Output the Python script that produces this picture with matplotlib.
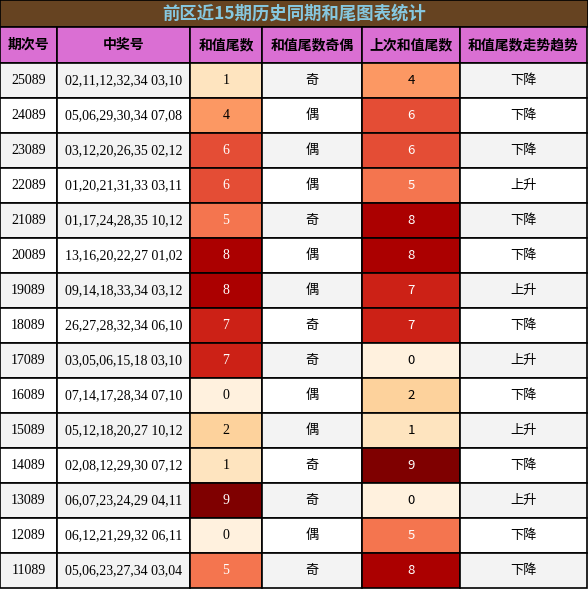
import matplotlib
matplotlib.use("Agg")
import matplotlib.pyplot as plt
from matplotlib.patches import Rectangle
from matplotlib import cm

title = "前区近15期历史同期和尾图表统计"
headers = ["期次号", "中奖号", "和值尾数", "和值尾数奇偶", "上次和值尾数", "和值尾数走势趋势"]
periods = ["25089","24089","23089","22089","21089","20089","19089","18089","17089","16089","15089","14089","13089","12089","11089"]
numbers = ["02,11,12,32,34 03,10","05,06,29,30,34 07,08","03,12,20,26,35 02,12","01,20,21,31,33 03,11",
           "01,17,24,28,35 10,12","13,16,20,22,27 01,02","09,14,18,33,34 03,12","26,27,28,32,34 06,10",
           "03,05,06,15,18 03,10","07,14,17,28,34 07,10","05,12,18,20,27 10,12","02,08,12,29,30 07,12",
           "06,07,23,24,29 04,11","06,12,21,29,32 06,11","05,06,23,27,34 03,04"]
tails = [1,4,6,6,5,8,8,7,7,0,2,1,9,0,5]
parity = ["奇","偶","偶","偶","奇","偶","偶","奇","奇","偶","偶","奇","奇","偶","奇"]
prev_tails = [4,6,6,5,8,8,7,7,0,2,1,9,0,5,8]
trend = ["下降","下降","下降","上升","下降","下降","上升","下降","上升","下降","上升","下降","上升","下降","下降"]

W, H = 588, 589
fig = plt.figure(figsize=(W/100, H/100), dpi=100)
ax = fig.add_axes([0, 0, 1, 1])
ax.set_xlim(0, W); ax.set_ylim(H, 0); ax.axis("off")

cjk = ["Noto Sans CJK SC", "DejaVu Sans"]
serif = ["Liberation Serif", "DejaVu Serif"]
cols = [0, 57, 190, 262, 362, 460, 587]
title_h, head_h = 27, 36
row_h = (H - 1 - title_h - head_h) / len(periods)
cmap = matplotlib.colormaps["OrRd"]
lw = 1.2

ax.add_patch(Rectangle((0, 0), W, title_h, facecolor="#664321", edgecolor="black", lw=lw))
ax.text(W/2, title_h/2, title, ha="center", va="center", color="#86C8E0", fontsize=12.5,
        fontweight="bold", family=cjk)

for j, h in enumerate(headers):
    x0, x1 = cols[j], cols[j+1]
    ax.add_patch(Rectangle((x0, title_h), x1-x0, head_h, facecolor="#DA6FD3", edgecolor="black", lw=lw))
    ax.text((x0+x1)/2, title_h+head_h/2, h, ha="center", va="center", fontsize=10, fontweight="bold", family=cjk)

def color_of(v):
    return cmap(0.05 + 0.95 * v / 9)

for i in range(len(periods)):
    y0 = title_h + head_h + i * row_h
    base = "#F3F3F3" if i % 2 == 0 else "white"
    cells = [(periods[i], base, serif, "black"), (numbers[i], base, serif, "black"),
             (str(tails[i]), color_of(tails[i]), serif, "white" if tails[i] >= 5 else "black"),
             (parity[i], base, cjk, "black"),
             (str(prev_tails[i]), color_of(prev_tails[i]), cjk, "white" if prev_tails[i] >= 5 else "black"),
             (trend[i], base, cjk, "black")]
    for j, (t, fc, fam, tc) in enumerate(cells):
        x0, x1 = cols[j], cols[j+1]
        ax.add_patch(Rectangle((x0, y0), x1-x0, row_h, facecolor=fc, edgecolor="black", lw=lw))
        ax.text((x0+x1)/2, y0+row_h/2, t, ha="center", va="center", fontsize=10 if fam is serif else 9.5,
                color=tc, family=fam)

fig.savefig("out.png", dpi=100)
